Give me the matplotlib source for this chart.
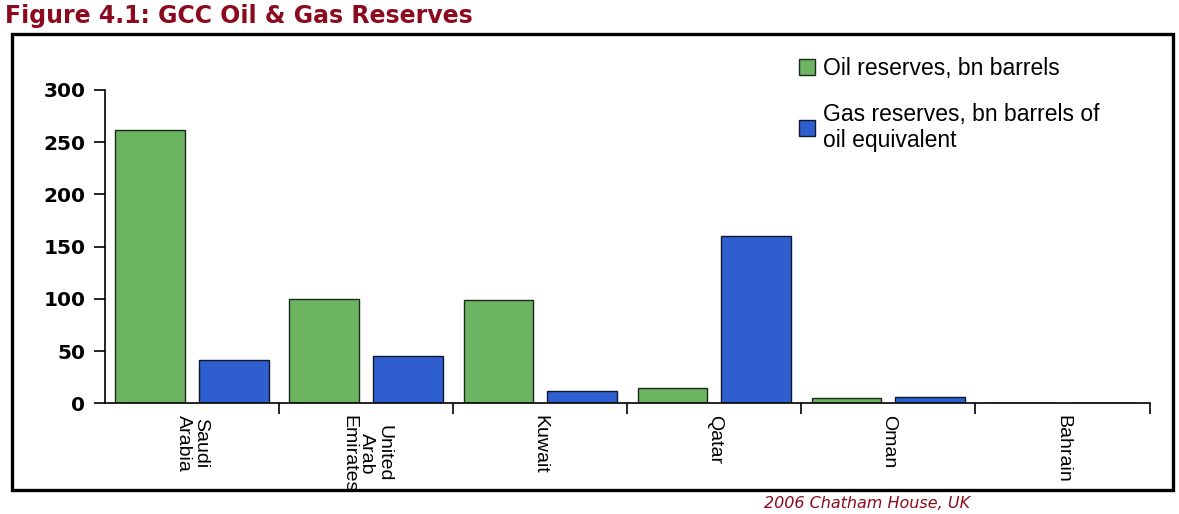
import numpy as np
import matplotlib
matplotlib.use('Agg')
import matplotlib.pyplot as plt
from matplotlib.patches import Rectangle

# GCC reserves
countries = ['Saudi\nArabia', 'United\nArab\nEmirates', 'Kuwait', 'Qatar', 'Oman', 'Bahrain']
oil_reserves = [262, 100, 99, 15, 5.5, 0.1]
gas_reserves = [42, 45, 12, 160, 6, 0.5]
y_ticks = [0, 50, 100, 150, 200, 250, 300]

oil_color = '#6cb462'
gas_color = '#2f5fcf'
title_color = '#8b0a1e'

fig = plt.figure(figsize=(11.79, 5.14), dpi=100)

# frame around the chart
frame = Rectangle((0.010, 0.046), 0.985, 0.888, transform=fig.transFigure,
                  fill=False, edgecolor='black', linewidth=2.4)
fig.patches.append(frame)

fig.text(0.004, 0.968, 'Figure 4.1: GCC Oil & Gas Reserves', color=title_color,
         fontsize=17, fontweight='bold', family='DejaVu Sans', va='center')
fig.text(0.648, 0.006, '2006 Chatham House, UK', color=title_color,
         fontsize=11.5, style='italic', family='DejaVu Sans', va='bottom')

ax = fig.add_axes([0.089, 0.215, 0.886, 0.61])
x = np.arange(len(countries))
w = 0.40
ax.bar(x - 0.24, oil_reserves, width=w, color=oil_color, edgecolor='#1a2a1a',
       linewidth=1, label='Oil reserves, bn barrels')
ax.bar(x + 0.24, gas_reserves, width=w, color=gas_color, edgecolor='#101830',
       linewidth=1, label='Gas reserves, bn barrels of\noil equivalent')

ax.set_xlim(-0.5, len(countries) - 0.5)
ax.set_ylim(0, 300)
ax.set_yticks(y_ticks)
ax.set_yticklabels([str(v) for v in y_ticks], fontsize=14.5, fontweight='bold',
                   family='DejaVu Sans')

ax.set_xticks(x)
ax.set_xticklabels(countries, rotation=-90, fontsize=14, va='top', ha='center',
                   family='Liberation Sans', linespacing=1.05)
ax.set_xticks(np.arange(len(countries)) + 0.5, minor=True)
ax.tick_params(axis='x', which='major', length=0, pad=8)
ax.tick_params(axis='x', which='minor', length=8, width=1.2, direction='out')
ax.tick_params(axis='y', length=8, width=1.2, direction='out', pad=6)

for s in ['top', 'right']:
    ax.spines[s].set_visible(False)
for s in ['left', 'bottom']:
    ax.spines[s].set_linewidth(1.2)

leg = fig.legend(loc='upper left', bbox_to_anchor=(0.66, 0.93), frameon=False,
                 handlelength=0.7, handleheight=0.7, handletextpad=0.35,
                 labelspacing=1.0, prop={'family': 'Liberation Sans', 'size': 16.5})

fig.savefig('out.png', dpi=100)
